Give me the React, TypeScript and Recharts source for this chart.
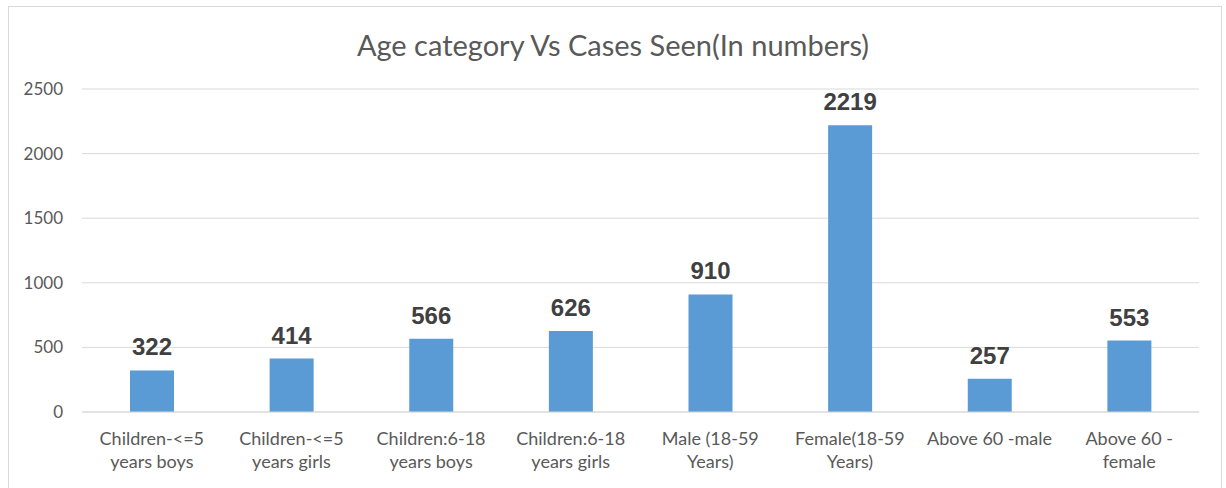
import { Bar, BarChart, CartesianGrid, LabelList, XAxis, YAxis } from 'recharts'

const categories = [
  'Children-<=5\nyears boys',
  'Children-<=5\nyears girls',
  'Children:6-18\nyears boys',
  'Children:6-18\nyears girls',
  'Male (18-59\nYears)',
  'Female(18-59\nYears)',
  'Above 60 -male',
  'Above 60 -\nfemale',
]
const cases = [322, 414, 566, 626, 910, 2219, 257, 553]
const yTicks = [0, 500, 1000, 1500, 2000, 2500]

const data = categories.map((name, i) => ({ name, cases: cases[i] }))

const FONT = 'Lato, "Open Sans", sans-serif'

function CategoryTick(props: any) {
  const { x, y, payload } = props
  const lines = String(payload.value).split('\n')
  return (
    <text x={x} y={y} textAnchor="middle" fill="#595959" fontSize={18} fontFamily={FONT}>
      {lines.map((line, i) => (
        <tspan key={i} x={x} dy={i === 0 ? 25 : 23}>
          {line}
        </tspan>
      ))}
    </text>
  )
}

export default function App() {
  return (
    <div style={{ position: 'absolute', left: 0, top: 0, width: 1226, height: 488, background: '#fff', overflow: 'hidden' }}>
      <div
        style={{
          position: 'absolute',
          left: 8,
          top: 6,
          width: 1212,
          height: 500,
          border: '1px solid #d9d9d9',
        }}
      />
      <div
        style={{
          position: 'absolute',
          left: 0,
          top: 27,
          width: 1226,
          textAlign: 'center',
          fontFamily: FONT,
          fontSize: 29,
          lineHeight: '36px',
          color: '#595959',
        }}
      >
        Age category Vs Cases Seen(In numbers)
      </div>
      <div style={{ position: 'absolute', left: 0, top: 0 }}>
        <BarChart width={1226} height={488} data={data} margin={{ top: 89, right: 27, left: 0, bottom: 0 }}>
          <CartesianGrid vertical={false} stroke="#d9d9d9" strokeWidth={1} />
          <XAxis
            dataKey="name"
            height={76}
            axisLine={{ stroke: '#d9d9d9' }}
            tickLine={false}
            interval={0}
            tick={<CategoryTick />}
          />
          <YAxis
            width={82}
            domain={[0, 2500]}
            ticks={yTicks}
            axisLine={false}
            tickLine={false}
            tickSize={0}
            tickMargin={19}
            tick={{ fill: '#595959', fontSize: 17, fontFamily: FONT }}
          />
          <Bar dataKey="cases" fill="#5b9bd5" barSize={44} isAnimationActive={false}>
            <LabelList
              dataKey="cases"
              position="top"
              offset={15}
              fill="#404040"
              fontSize={24}
              fontWeight="bold"
              fontFamily='"Liberation Sans", Arial, sans-serif'
            />
          </Bar>
        </BarChart>
      </div>
    </div>
  )
}
